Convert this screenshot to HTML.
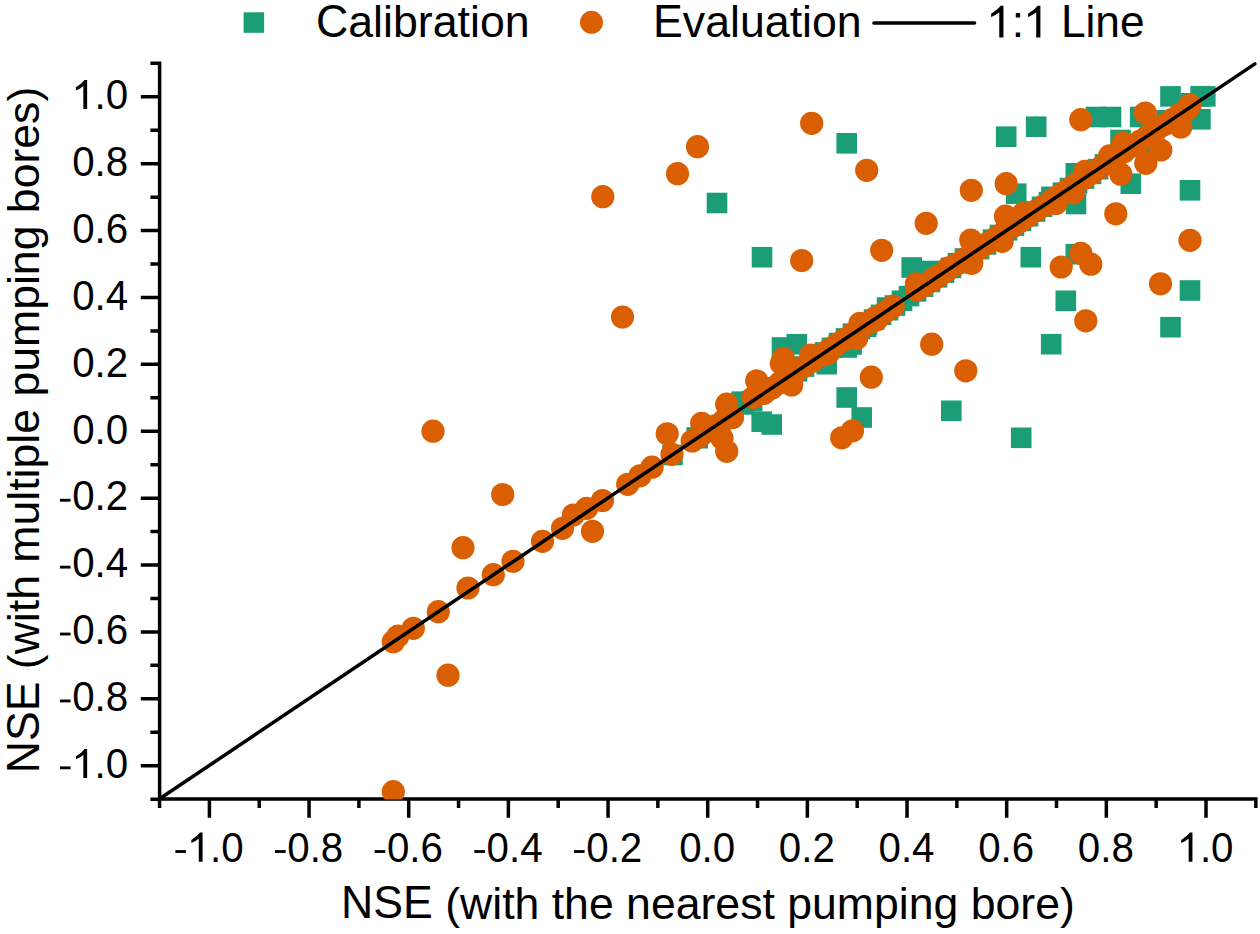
<!DOCTYPE html><html><head><meta charset="utf-8"><style>html,body{margin:0;padding:0;background:#fff;width:1260px;height:934px;overflow:hidden}svg{display:block}text{font-family:"Liberation Sans",sans-serif;fill:#000}</style></head><body>
<svg width="1260" height="934" viewBox="0 0 1260 934">
<path d="M159.6,61.6 V800.8 M157.9,798.9 H1257.6 M150.4,799.14 H159.6 M159.57,798.9 V808.1 M140.8,765.70 H159.6 M209.40,798.9 V817.7 M150.4,732.25 H159.6 M259.23,798.9 V808.1 M140.8,698.81 H159.6 M309.06,798.9 V817.7 M150.4,665.37 H159.6 M358.89,798.9 V808.1 M140.8,631.92 H159.6 M408.72,798.9 V817.7 M150.4,598.48 H159.6 M458.55,798.9 V808.1 M140.8,565.03 H159.6 M508.38,798.9 V817.7 M150.4,531.59 H159.6 M558.21,798.9 V808.1 M140.8,498.14 H159.6 M608.04,798.9 V817.7 M150.4,464.69 H159.6 M657.87,798.9 V808.1 M140.8,431.25 H159.6 M707.70,798.9 V817.7 M150.4,397.81 H159.6 M757.53,798.9 V808.1 M140.8,364.36 H159.6 M807.36,798.9 V817.7 M150.4,330.92 H159.6 M857.19,798.9 V808.1 M140.8,297.47 H159.6 M907.02,798.9 V817.7 M150.4,264.02 H159.6 M956.85,798.9 V808.1 M140.8,230.58 H159.6 M1006.68,798.9 V817.7 M150.4,197.14 H159.6 M1056.51,798.9 V808.1 M140.8,163.69 H159.6 M1106.34,798.9 V817.7 M150.4,130.25 H159.6 M1156.17,798.9 V808.1 M140.8,96.80 H159.6 M1206.00,798.9 V817.7 M150.4,63.35 H159.6 M1255.83,798.9 V808.1" stroke="#000" stroke-width="3.5" fill="none"/>
<defs><clipPath id="pc"><rect x="159.6" y="55" width="1100" height="744.5"/></clipPath></defs>
<g clip-path="url(#pc)">
<g fill="#1b9e77"><rect x="836.4" y="133.0" width="20.6" height="20.6"/><rect x="706.7" y="192.7" width="20.6" height="20.6"/><rect x="751.7" y="246.9" width="20.6" height="20.6"/><rect x="771.7" y="337.2" width="20.6" height="20.6"/><rect x="786.5" y="333.9" width="20.6" height="20.6"/><rect x="901.4" y="257.2" width="20.6" height="20.6"/><rect x="995.9" y="126.4" width="20.6" height="20.6"/><rect x="1025.9" y="116.4" width="20.6" height="20.6"/><rect x="1085.7" y="106.7" width="20.6" height="20.6"/><rect x="1100.7" y="106.7" width="20.6" height="20.6"/><rect x="1129.9" y="106.7" width="20.6" height="20.6"/><rect x="1160.2" y="86.1" width="20.6" height="20.6"/><rect x="1195.0" y="86.1" width="20.6" height="20.6"/><rect x="1190.1" y="109.0" width="20.6" height="20.6"/><rect x="1120.5" y="173.4" width="20.6" height="20.6"/><rect x="1179.7" y="180.0" width="20.6" height="20.6"/><rect x="1005.9" y="183.4" width="20.6" height="20.6"/><rect x="1065.5" y="163.0" width="20.6" height="20.6"/><rect x="1110.2" y="129.7" width="20.6" height="20.6"/><rect x="1065.7" y="193.7" width="20.6" height="20.6"/><rect x="1020.5" y="246.9" width="20.6" height="20.6"/><rect x="1065.5" y="243.9" width="20.6" height="20.6"/><rect x="1055.5" y="290.5" width="20.6" height="20.6"/><rect x="1040.9" y="333.9" width="20.6" height="20.6"/><rect x="1179.7" y="280.2" width="20.6" height="20.6"/><rect x="1160.2" y="316.9" width="20.6" height="20.6"/><rect x="751.4" y="411.4" width="20.6" height="20.6"/><rect x="761.4" y="414.2" width="20.6" height="20.6"/><rect x="731.4" y="391.4" width="20.6" height="20.6"/><rect x="662.2" y="444.7" width="20.6" height="20.6"/><rect x="686.4" y="427.2" width="20.6" height="20.6"/><rect x="836.4" y="387.2" width="20.6" height="20.6"/><rect x="851.4" y="407.2" width="20.6" height="20.6"/><rect x="941.0" y="400.5" width="20.6" height="20.6"/><rect x="816.4" y="353.9" width="20.6" height="20.6"/><rect x="1010.9" y="427.5" width="20.6" height="20.6"/><rect x="836.5" y="337.2" width="20.6" height="20.6"/><rect x="1041.1" y="186.6" width="20.6" height="20.6"/><rect x="841.3" y="334.2" width="20.6" height="20.6"/><rect x="855.8" y="316.4" width="20.6" height="20.6"/><rect x="919.7" y="260.7" width="20.6" height="20.6"/><rect x="876.8" y="297.3" width="20.6" height="20.6"/><rect x="741.8" y="390.8" width="20.6" height="20.6"/><rect x="733.1" y="394.1" width="20.6" height="20.6"/><rect x="687.4" y="427.9" width="20.6" height="20.6"/><rect x="1180.6" y="93.0" width="20.6" height="20.6"/><rect x="1190.3" y="85.9" width="20.6" height="20.6"/><rect x="1156.4" y="110.0" width="20.6" height="20.6"/><rect x="1141.7" y="131.7" width="20.6" height="20.6"/><rect x="779.7" y="365.7" width="20.6" height="20.6"/><rect x="786.7" y="361.0" width="20.6" height="20.6"/><rect x="793.7" y="356.3" width="20.6" height="20.6"/><rect x="800.7" y="351.6" width="20.6" height="20.6"/><rect x="807.7" y="346.9" width="20.6" height="20.6"/><rect x="814.7" y="342.2" width="20.6" height="20.6"/><rect x="821.7" y="337.5" width="20.6" height="20.6"/><rect x="828.7" y="332.8" width="20.6" height="20.6"/><rect x="835.7" y="328.1" width="20.6" height="20.6"/><rect x="842.7" y="323.4" width="20.6" height="20.6"/><rect x="849.7" y="318.7" width="20.6" height="20.6"/><rect x="856.7" y="314.0" width="20.6" height="20.6"/><rect x="863.7" y="309.3" width="20.6" height="20.6"/><rect x="870.7" y="304.6" width="20.6" height="20.6"/><rect x="877.7" y="299.9" width="20.6" height="20.6"/><rect x="884.7" y="295.2" width="20.6" height="20.6"/><rect x="891.7" y="290.5" width="20.6" height="20.6"/><rect x="898.7" y="285.8" width="20.6" height="20.6"/><rect x="905.7" y="281.1" width="20.6" height="20.6"/><rect x="912.7" y="276.4" width="20.6" height="20.6"/><rect x="919.7" y="271.7" width="20.6" height="20.6"/><rect x="926.7" y="267.0" width="20.6" height="20.6"/><rect x="933.7" y="262.3" width="20.6" height="20.6"/><rect x="940.7" y="257.6" width="20.6" height="20.6"/><rect x="947.7" y="252.9" width="20.6" height="20.6"/><rect x="954.7" y="248.2" width="20.6" height="20.6"/><rect x="961.7" y="243.5" width="20.6" height="20.6"/><rect x="968.7" y="238.8" width="20.6" height="20.6"/><rect x="975.7" y="234.1" width="20.6" height="20.6"/><rect x="982.7" y="229.4" width="20.6" height="20.6"/><rect x="989.7" y="224.7" width="20.6" height="20.6"/><rect x="996.7" y="220.0" width="20.6" height="20.6"/><rect x="1003.7" y="215.3" width="20.6" height="20.6"/><rect x="1010.7" y="210.6" width="20.6" height="20.6"/><rect x="1017.7" y="205.9" width="20.6" height="20.6"/><rect x="1024.7" y="201.2" width="20.6" height="20.6"/><rect x="1031.7" y="196.5" width="20.6" height="20.6"/><rect x="1038.7" y="191.8" width="20.6" height="20.6"/><rect x="1045.7" y="187.1" width="20.6" height="20.6"/><rect x="1052.7" y="182.4" width="20.6" height="20.6"/><rect x="1059.7" y="177.7" width="20.6" height="20.6"/><rect x="1066.7" y="173.0" width="20.6" height="20.6"/><rect x="1073.7" y="168.3" width="20.6" height="20.6"/><rect x="1080.7" y="163.6" width="20.6" height="20.6"/><rect x="1087.7" y="158.9" width="20.6" height="20.6"/><rect x="1094.7" y="154.2" width="20.6" height="20.6"/><rect x="1101.7" y="149.5" width="20.6" height="20.6"/></g>
<g fill="#d95f02"><circle cx="573.3" cy="515.0" r="11.6"/><circle cx="586.7" cy="508.3" r="11.6"/><circle cx="602.5" cy="500.5" r="11.6"/><circle cx="627.7" cy="484.3" r="11.6"/><circle cx="640.0" cy="475.8" r="11.6"/><circle cx="652.0" cy="467.2" r="11.6"/><circle cx="667.2" cy="433.8" r="11.6"/><circle cx="672.0" cy="454.3" r="11.6"/><circle cx="692.2" cy="441.0" r="11.6"/><circle cx="701.7" cy="423.3" r="11.6"/><circle cx="726.7" cy="404.2" r="11.6"/><circle cx="732.5" cy="417.5" r="11.6"/><circle cx="722.0" cy="438.3" r="11.6"/><circle cx="726.7" cy="451.3" r="11.6"/><circle cx="756.7" cy="380.8" r="11.6"/><circle cx="753.3" cy="397.5" r="11.6"/><circle cx="781.3" cy="363.6" r="11.6"/><circle cx="791.7" cy="385.0" r="11.6"/><circle cx="468.0" cy="588.0" r="11.6"/><circle cx="493.3" cy="574.7" r="11.6"/><circle cx="513.0" cy="561.3" r="11.6"/><circle cx="542.5" cy="541.3" r="11.6"/><circle cx="562.5" cy="528.3" r="11.6"/><circle cx="438.3" cy="611.7" r="11.6"/><circle cx="413.3" cy="628.3" r="11.6"/><circle cx="393.3" cy="641.7" r="11.6"/><circle cx="398.0" cy="636.0" r="11.6"/><circle cx="916.7" cy="290.0" r="11.6"/><circle cx="891.7" cy="307.5" r="11.6"/><circle cx="874.2" cy="318.3" r="11.6"/><circle cx="860.0" cy="323.3" r="11.6"/><circle cx="856.7" cy="338.3" r="11.6"/><circle cx="828.3" cy="353.3" r="11.6"/><circle cx="810.8" cy="355.0" r="11.6"/><circle cx="783.3" cy="358.3" r="11.6"/><circle cx="970.8" cy="240.0" r="11.6"/><circle cx="971.7" cy="263.3" r="11.6"/><circle cx="1002.1" cy="241.4" r="11.6"/><circle cx="1190.0" cy="105.0" r="11.6"/><circle cx="1180.8" cy="127.0" r="11.6"/><circle cx="1160.8" cy="150.0" r="11.6"/><circle cx="1145.8" cy="163.3" r="11.6"/><circle cx="1120.8" cy="174.2" r="11.6"/><circle cx="1123.1" cy="143.4" r="11.6"/><circle cx="1109.6" cy="155.9" r="11.6"/><circle cx="1085.1" cy="171.3" r="11.6"/><circle cx="1055.9" cy="203.5" r="11.6"/><circle cx="1073.3" cy="192.9" r="11.6"/><circle cx="1023.1" cy="213.6" r="11.6"/><circle cx="948.8" cy="267.8" r="11.6"/><circle cx="933.4" cy="278.9" r="11.6"/><circle cx="922.8" cy="284.7" r="11.6"/><circle cx="937.2" cy="277.0" r="11.6"/><circle cx="810.8" cy="361.1" r="11.6"/><circle cx="876.4" cy="320.1" r="11.6"/><circle cx="893.3" cy="306.2" r="11.6"/><circle cx="700.0" cy="436.4" r="11.6"/><circle cx="708.0" cy="431.0" r="11.6"/><circle cx="716.0" cy="425.6" r="11.6"/><circle cx="724.0" cy="420.3" r="11.6"/><circle cx="764.0" cy="393.4" r="11.6"/><circle cx="772.0" cy="388.1" r="11.6"/><circle cx="780.0" cy="382.7" r="11.6"/><circle cx="788.0" cy="377.3" r="11.6"/><circle cx="796.0" cy="371.9" r="11.6"/><circle cx="804.0" cy="366.6" r="11.6"/><circle cx="812.0" cy="361.2" r="11.6"/><circle cx="820.0" cy="355.8" r="11.6"/><circle cx="828.0" cy="350.5" r="11.6"/><circle cx="836.0" cy="345.1" r="11.6"/><circle cx="844.0" cy="339.7" r="11.6"/><circle cx="852.0" cy="334.4" r="11.6"/><circle cx="860.0" cy="329.0" r="11.6"/><circle cx="868.0" cy="323.6" r="11.6"/><circle cx="876.0" cy="318.3" r="11.6"/><circle cx="884.0" cy="312.9" r="11.6"/><circle cx="924.0" cy="286.0" r="11.6"/><circle cx="932.0" cy="280.7" r="11.6"/><circle cx="940.0" cy="275.3" r="11.6"/><circle cx="948.0" cy="269.9" r="11.6"/><circle cx="956.0" cy="264.6" r="11.6"/><circle cx="964.0" cy="259.2" r="11.6"/><circle cx="972.0" cy="253.8" r="11.6"/><circle cx="980.0" cy="248.4" r="11.6"/><circle cx="988.0" cy="243.1" r="11.6"/><circle cx="996.0" cy="237.7" r="11.6"/><circle cx="1004.0" cy="232.3" r="11.6"/><circle cx="1012.0" cy="227.0" r="11.6"/><circle cx="1020.0" cy="221.6" r="11.6"/><circle cx="1028.0" cy="216.2" r="11.6"/><circle cx="1036.0" cy="210.9" r="11.6"/><circle cx="1044.0" cy="205.5" r="11.6"/><circle cx="1052.0" cy="200.1" r="11.6"/><circle cx="1060.0" cy="194.8" r="11.6"/><circle cx="1068.0" cy="189.4" r="11.6"/><circle cx="1076.0" cy="184.0" r="11.6"/><circle cx="1084.0" cy="178.6" r="11.6"/><circle cx="1092.0" cy="173.3" r="11.6"/><circle cx="1100.0" cy="167.9" r="11.6"/><circle cx="1108.0" cy="162.5" r="11.6"/><circle cx="1116.0" cy="157.2" r="11.6"/><circle cx="1124.0" cy="151.8" r="11.6"/><circle cx="1132.0" cy="146.4" r="11.6"/><circle cx="1140.0" cy="141.1" r="11.6"/><circle cx="1148.0" cy="135.7" r="11.6"/><circle cx="1156.0" cy="130.3" r="11.6"/><circle cx="1164.0" cy="124.9" r="11.6"/><circle cx="1172.0" cy="119.6" r="11.6"/><circle cx="1180.0" cy="114.2" r="11.6"/><circle cx="1188.0" cy="108.8" r="11.6"/><circle cx="697.5" cy="146.7" r="11.6"/><circle cx="677.5" cy="173.7" r="11.6"/><circle cx="602.8" cy="196.7" r="11.6"/><circle cx="811.7" cy="123.3" r="11.6"/><circle cx="866.7" cy="170.3" r="11.6"/><circle cx="971.3" cy="190.3" r="11.6"/><circle cx="1080.8" cy="119.7" r="11.6"/><circle cx="622.5" cy="317.0" r="11.6"/><circle cx="926.2" cy="223.3" r="11.6"/><circle cx="801.7" cy="260.5" r="11.6"/><circle cx="881.7" cy="250.3" r="11.6"/><circle cx="931.7" cy="344.2" r="11.6"/><circle cx="965.8" cy="370.8" r="11.6"/><circle cx="1115.8" cy="213.8" r="11.6"/><circle cx="1190.0" cy="240.3" r="11.6"/><circle cx="1061.2" cy="267.0" r="11.6"/><circle cx="1080.8" cy="253.3" r="11.6"/><circle cx="1090.8" cy="264.2" r="11.6"/><circle cx="1085.8" cy="320.8" r="11.6"/><circle cx="1160.5" cy="283.8" r="11.6"/><circle cx="433.0" cy="431.2" r="11.6"/><circle cx="502.7" cy="494.5" r="11.6"/><circle cx="463.0" cy="547.7" r="11.6"/><circle cx="871.3" cy="377.2" r="11.6"/><circle cx="852.5" cy="430.8" r="11.6"/><circle cx="841.7" cy="437.8" r="11.6"/><circle cx="592.5" cy="531.3" r="11.6"/><circle cx="448.0" cy="675.2" r="11.6"/><circle cx="393.3" cy="791.7" r="11.6"/><circle cx="1006.2" cy="183.7" r="11.6"/><circle cx="1145.3" cy="113.0" r="11.6"/><circle cx="1005.5" cy="216.2" r="11.6"/><circle cx="916.4" cy="283.9" r="11.6"/></g>
</g>
<line x1="159.6" y1="798.8" x2="1254.9" y2="63.9" stroke="#000" stroke-width="3.5" stroke-linecap="round"/>
<path transform="translate(58.76,778.00) scale(0.01968,-0.01968)" d="M60,445 L600,445 L600,590 L60,590 Z"/><path transform="translate(72.18,778.00) scale(0.01968,-0.02066)" d="M760,0 L760,1409 L628,1409 C560,1314 400,1181 191,1055 L191,905 C330,962 480,1048 567,1123 L567,0 Z"/><text transform="translate(0,778.00) scale(1,1.05) translate(0,-778.00)" x="94.59" y="778.00" font-size="40.3" style="font-kerning:none" xml:space="preserve">.0</text>
<path transform="translate(58.76,711.11) scale(0.01968,-0.01968)" d="M60,445 L600,445 L600,590 L60,590 Z"/><text transform="translate(0,711.11) scale(1,1.05) translate(0,-711.11)" x="72.18" y="711.11" font-size="40.3" style="font-kerning:none" xml:space="preserve">0.8</text>
<path transform="translate(58.76,644.22) scale(0.01968,-0.01968)" d="M60,445 L600,445 L600,590 L60,590 Z"/><text transform="translate(0,644.22) scale(1,1.05) translate(0,-644.22)" x="72.18" y="644.22" font-size="40.3" style="font-kerning:none" xml:space="preserve">0.6</text>
<path transform="translate(58.76,577.33) scale(0.01968,-0.01968)" d="M60,445 L600,445 L600,590 L60,590 Z"/><text transform="translate(0,577.33) scale(1,1.05) translate(0,-577.33)" x="72.18" y="577.33" font-size="40.3" style="font-kerning:none" xml:space="preserve">0.4</text>
<path transform="translate(58.76,510.44) scale(0.01968,-0.01968)" d="M60,445 L600,445 L600,590 L60,590 Z"/><text transform="translate(0,510.44) scale(1,1.05) translate(0,-510.44)" x="72.18" y="510.44" font-size="40.3" style="font-kerning:none" xml:space="preserve">0.2</text>
<text transform="translate(0,443.55) scale(1,1.05) translate(0,-443.55)" x="72.18" y="443.55" font-size="40.3" style="font-kerning:none" xml:space="preserve">0.0</text>
<text transform="translate(0,376.66) scale(1,1.05) translate(0,-376.66)" x="72.18" y="376.66" font-size="40.3" style="font-kerning:none" xml:space="preserve">0.2</text>
<text transform="translate(0,309.77) scale(1,1.05) translate(0,-309.77)" x="72.18" y="309.77" font-size="40.3" style="font-kerning:none" xml:space="preserve">0.4</text>
<text transform="translate(0,242.88) scale(1,1.05) translate(0,-242.88)" x="72.18" y="242.88" font-size="40.3" style="font-kerning:none" xml:space="preserve">0.6</text>
<text transform="translate(0,175.99) scale(1,1.05) translate(0,-175.99)" x="72.18" y="175.99" font-size="40.3" style="font-kerning:none" xml:space="preserve">0.8</text>
<path transform="translate(72.18,109.10) scale(0.01968,-0.02066)" d="M760,0 L760,1409 L628,1409 C560,1314 400,1181 191,1055 L191,905 C330,962 480,1048 567,1123 L567,0 Z"/><text transform="translate(0,109.10) scale(1,1.05) translate(0,-109.10)" x="94.59" y="109.10" font-size="40.3" style="font-kerning:none" xml:space="preserve">.0</text>
<path transform="translate(174.18,861.70) scale(0.01968,-0.01968)" d="M60,445 L600,445 L600,590 L60,590 Z"/><path transform="translate(187.60,861.70) scale(0.01968,-0.02066)" d="M760,0 L760,1409 L628,1409 C560,1314 400,1181 191,1055 L191,905 C330,962 480,1048 567,1123 L567,0 Z"/><text transform="translate(0,861.70) scale(1,1.05) translate(0,-861.70)" x="210.01" y="861.70" font-size="40.3" style="font-kerning:none" xml:space="preserve">.0</text>
<path transform="translate(273.84,861.70) scale(0.01968,-0.01968)" d="M60,445 L600,445 L600,590 L60,590 Z"/><text transform="translate(0,861.70) scale(1,1.05) translate(0,-861.70)" x="287.26" y="861.70" font-size="40.3" style="font-kerning:none" xml:space="preserve">0.8</text>
<path transform="translate(373.50,861.70) scale(0.01968,-0.01968)" d="M60,445 L600,445 L600,590 L60,590 Z"/><text transform="translate(0,861.70) scale(1,1.05) translate(0,-861.70)" x="386.92" y="861.70" font-size="40.3" style="font-kerning:none" xml:space="preserve">0.6</text>
<path transform="translate(473.16,861.70) scale(0.01968,-0.01968)" d="M60,445 L600,445 L600,590 L60,590 Z"/><text transform="translate(0,861.70) scale(1,1.05) translate(0,-861.70)" x="486.58" y="861.70" font-size="40.3" style="font-kerning:none" xml:space="preserve">0.4</text>
<path transform="translate(572.82,861.70) scale(0.01968,-0.01968)" d="M60,445 L600,445 L600,590 L60,590 Z"/><text transform="translate(0,861.70) scale(1,1.05) translate(0,-861.70)" x="586.24" y="861.70" font-size="40.3" style="font-kerning:none" xml:space="preserve">0.2</text>
<text transform="translate(0,861.70) scale(1,1.05) translate(0,-861.70)" x="679.19" y="861.70" font-size="40.3" style="font-kerning:none" xml:space="preserve">0.0</text>
<text transform="translate(0,861.70) scale(1,1.05) translate(0,-861.70)" x="778.85" y="861.70" font-size="40.3" style="font-kerning:none" xml:space="preserve">0.2</text>
<text transform="translate(0,861.70) scale(1,1.05) translate(0,-861.70)" x="878.51" y="861.70" font-size="40.3" style="font-kerning:none" xml:space="preserve">0.4</text>
<text transform="translate(0,861.70) scale(1,1.05) translate(0,-861.70)" x="978.17" y="861.70" font-size="40.3" style="font-kerning:none" xml:space="preserve">0.6</text>
<text transform="translate(0,861.70) scale(1,1.05) translate(0,-861.70)" x="1077.83" y="861.70" font-size="40.3" style="font-kerning:none" xml:space="preserve">0.8</text>
<path transform="translate(1177.49,861.70) scale(0.01968,-0.02066)" d="M760,0 L760,1409 L628,1409 C560,1314 400,1181 191,1055 L191,905 C330,962 480,1048 567,1123 L567,0 Z"/><text transform="translate(0,861.70) scale(1,1.05) translate(0,-861.70)" x="1199.90" y="861.70" font-size="40.3" style="font-kerning:none" xml:space="preserve">.0</text>
<text transform="translate(0,918.50) scale(1,1.04) translate(0,-918.50)" x="341.11" y="918.50" font-size="44.6" style="font-kerning:none" xml:space="preserve">NSE</text><text x="432.81" y="918.50" font-size="44.6" style="font-kerning:none" xml:space="preserve"> (with the nearest pumping bore)</text>
<g transform="translate(39.3,430) rotate(-90) translate(-39.3,-430)"><text transform="translate(0,430.00) scale(1,1.04) translate(0,-430.00)" x="-304.01" y="430.00" font-size="44.6" style="font-kerning:none" xml:space="preserve">NSE</text><text x="-212.30" y="430.00" font-size="44.6" style="font-kerning:none" xml:space="preserve"> (with multiple pumping bores)</text></g>
<rect x="243.6" y="12.3" width="20.5" height="20.5" fill="#1b9e77"/>
<text transform="translate(0,37.40) scale(1,1.04) translate(0,-37.40)" x="316.00" y="37.40" font-size="44.7" style="font-kerning:none" xml:space="preserve">C</text><text x="348.28" y="37.40" font-size="44.7" style="font-kerning:none" xml:space="preserve">alibration</text>
<circle cx="591.5" cy="22.3" r="11.5" fill="#d95f02"/>
<text transform="translate(0,37.40) scale(1,1.04) translate(0,-37.40)" x="653.00" y="37.40" font-size="44.7" style="font-kerning:none" xml:space="preserve">E</text><text x="682.81" y="37.40" font-size="44.7" style="font-kerning:none" xml:space="preserve">valuation</text>
<line x1="874" y1="23" x2="974.5" y2="23" stroke="#000" stroke-width="3.6" stroke-linecap="round"/>
<path transform="translate(987.00,37.40) scale(0.02163,-0.02250)" d="M760,0 L760,1409 L628,1409 C560,1314 400,1181 191,1055 L191,905 C330,962 480,1048 567,1123 L567,0 Z"/><path transform="translate(1023.95,37.40) scale(0.02163,-0.02250)" d="M760,0 L760,1409 L628,1409 C560,1314 400,1181 191,1055 L191,905 C330,962 480,1048 567,1123 L567,0 Z"/><text x="1011.64" y="37.40" font-size="44.3" style="font-kerning:none" xml:space="preserve">:</text><text x="1048.58" y="37.40" font-size="44.3" style="font-kerning:none" xml:space="preserve"> </text><text transform="translate(0,37.40) scale(1,1.04) translate(0,-37.40)" x="1060.89" y="37.40" font-size="44.3" style="font-kerning:none" xml:space="preserve">L</text><text x="1085.53" y="37.40" font-size="44.3" style="font-kerning:none" xml:space="preserve">ine</text>
</svg></body></html>
